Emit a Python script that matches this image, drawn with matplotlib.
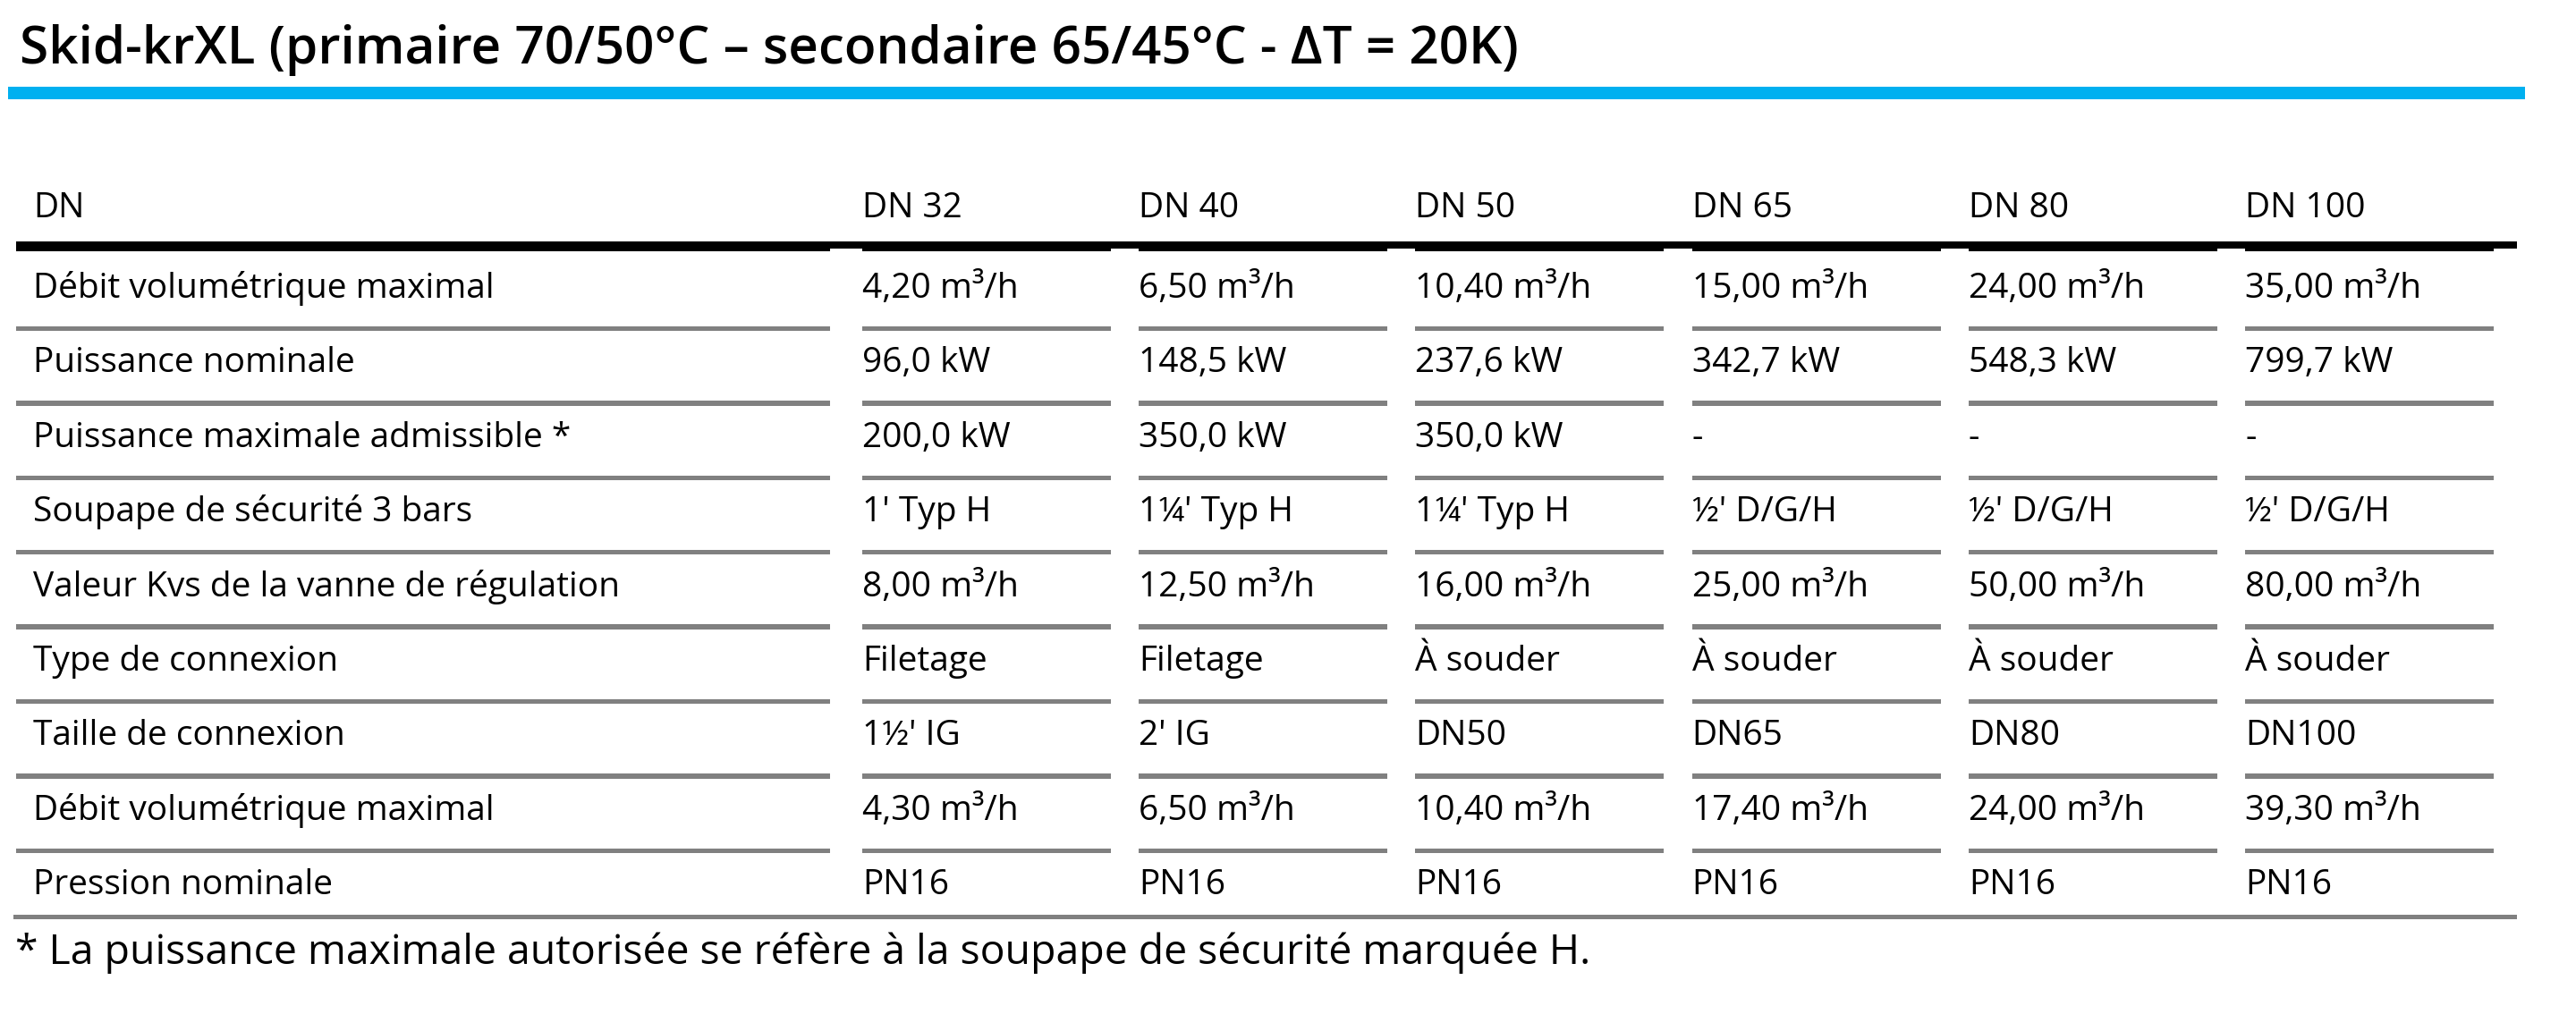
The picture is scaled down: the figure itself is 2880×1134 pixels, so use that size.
import matplotlib.pyplot as plt

plt.rcParams["font.family"] = ["Open Sans", "DejaVu Sans"]

title = "Skid-krXL (primaire 70/50°C – secondaire 65/45°C - ΔT = 20K)"
footnote = "* La puissance maximale autorisée se réfère à la soupape de sécurité marquée H."

header_label = "DN"
columns = ["DN 32", "DN 40", "DN 50", "DN 65", "DN 80", "DN 100"]

row_labels = [
    "Débit volumétrique maximal",
    "Puissance nominale",
    "Puissance maximale admissible *",
    "Soupape de sécurité 3 bars",
    "Valeur Kvs de la vanne de régulation",
    "Type de connexion",
    "Taille de connexion",
    "Débit volumétrique maximal",
    "Pression nominale",
]

debit_max = ["4,20 m³/h", "6,50 m³/h", "10,40 m³/h", "15,00 m³/h", "24,00 m³/h", "35,00 m³/h"]
puissance_nom = ["96,0 kW", "148,5 kW", "237,6 kW", "342,7 kW", "548,3 kW", "799,7 kW"]
puissance_max = ["200,0 kW", "350,0 kW", "350,0 kW", "-", "-", "-"]
soupape = ["1' Typ H", "1¼' Typ H", "1¼' Typ H", "½' D/G/H", "½' D/G/H", "½' D/G/H"]
kvs = ["8,00 m³/h", "12,50 m³/h", "16,00 m³/h", "25,00 m³/h", "50,00 m³/h", "80,00 m³/h"]
connexion_type = ["Filetage", "Filetage", "À souder", "À souder", "À souder", "À souder"]
connexion_taille = ["1½' IG", "2' IG", "DN50", "DN65", "DN80", "DN100"]
debit_max_2 = ["4,30 m³/h", "6,50 m³/h", "10,40 m³/h", "17,40 m³/h", "24,00 m³/h", "39,30 m³/h"]
pression = ["PN16", "PN16", "PN16", "PN16", "PN16", "PN16"]

rows = [debit_max, puissance_nom, puissance_max, soupape, kvs,
        connexion_type, connexion_taille, debit_max_2, pression]

# layout in pixels (figure is 2880 x 1134)
W, H = 2880, 1134
label_x0, label_x1 = 18, 928
col_x0 = 964
col_step = 309.2
cell_w = 278
header_base = 243
row_base0 = 333
row_step = 83.4
line0 = 367.5
text_size = 28
blue = "#00b0f0"
grey = "#808080"

fig = plt.figure(figsize=(W / 100, H / 100), dpi=100)
ax = fig.add_axes([0, 0, 1, 1])
ax.set_xlim(0, W)
ax.set_ylim(H, 0)
ax.axis("off")

# title and blue rule
ax.text(22, 71, title, fontsize=42, fontweight="semibold", va="baseline", ha="left", color="black")
ax.barh(104, 2823 - 9, height=14, left=9, color=blue)

# header
ax.text(label_x0 + 19, header_base, header_label, fontsize=text_size, va="baseline")
for i, c in enumerate(columns):
    ax.text(col_x0 + i * col_step, header_base, c, fontsize=text_size, va="baseline")

# black rule under header: thin continuous + thicker cell segments
ax.barh(274, 2814 - label_x0, height=8, left=label_x0, color="black")
ax.barh(275.5, label_x1 - label_x0, height=11, left=label_x0, color="black")
for i in range(len(columns)):
    ax.barh(275.5, cell_w, height=11, left=col_x0 + i * col_step, color="black")

# body rows
for r, (lab, vals) in enumerate(zip(row_labels, rows)):
    yb = row_base0 + r * row_step
    ax.text(label_x0 + 19, yb, lab, fontsize=text_size, va="baseline")
    for i, v in enumerate(vals):
        ax.text(col_x0 + i * col_step, yb, v, fontsize=text_size, va="baseline")
    if r < len(rows) - 1:
        yl = line0 + r * row_step
        ax.barh(yl, label_x1 - label_x0, height=5.5, left=label_x0, color=grey)
        for i in range(len(columns)):
            ax.barh(yl, cell_w, height=5.5, left=col_x0 + i * col_step, color=grey)

# bottom rule and footnote
ax.barh(1025.5, 2814 - 15, height=5.5, left=15, color=grey)
ax.text(17, 1078, footnote, fontsize=33.4, va="baseline", ha="left")

fig.savefig("out.png", dpi=100)
